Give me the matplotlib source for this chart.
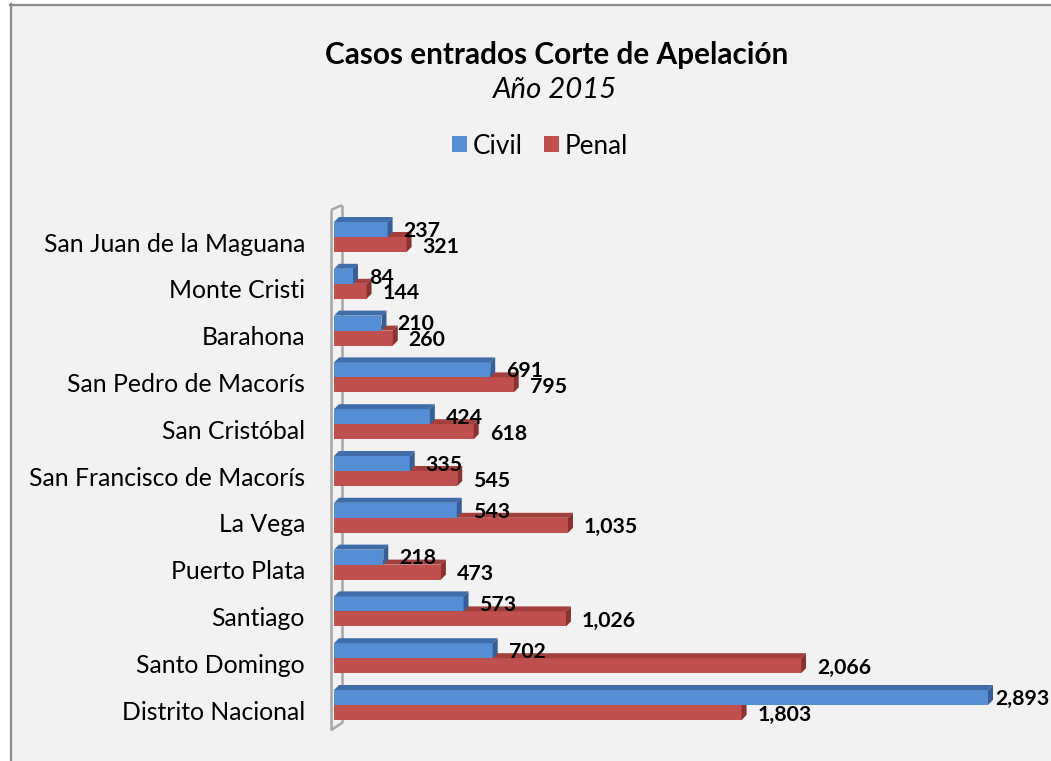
import matplotlib
matplotlib.use("Agg")
import matplotlib.pyplot as plt
from matplotlib.patches import Polygon, Rectangle, Patch
from matplotlib.lines import Line2D
from matplotlib.textpath import TextPath
from matplotlib.font_manager import FontProperties

# ---------------- data ----------------
categories = ["San Juan de la Maguana", "Monte Cristi", "Barahona",
              "San Pedro de Macorís", "San Cristóbal", "San Francisco de Macorís",
              "La Vega", "Puerto Plata", "Santiago", "Santo Domingo",
              "Distrito Nacional"]
civil = [237, 84, 210, 691, 424, 335, 543, 218, 573, 702, 2893]
penal = [321, 144, 260, 795, 618, 545, 1035, 473, 1026, 2066, 1803]
series_names = ["Civil", "Penal"]
title = "Casos entrados Corte de Apelación"
subtitle = "Año 2015"

# ---------------- style ----------------
W, H = 1051, 761
FONT = "Lato"
BG = "#F2F2F2"
BLUE = ("#558ED5", "#3F6DAA", "#375F96")   # front, top, side
RED = ("#C0504D", "#A3403D", "#8A3230")


def fit_size(text, target_px, **kw):
    """font size (pt) so that text is target_px wide at 100 dpi"""
    fp = FontProperties(family=FONT, size=10, **kw)
    w = TextPath((0, 0), text, prop=fp).get_extents().width  # in pt at size 10
    return 10 * (target_px * 0.72) / w


tick_fs = fit_size("San Juan de la Maguana", 258)
title_fs = fit_size(title, 460, weight="bold")
sub_fs = fit_size(subtitle, 124, style="italic")
lab_fs = fit_size("1,803", 52, weight="bold")
leg_fs = fit_size("Penal", 59)

fig = plt.figure(figsize=(W / 100, H / 100), dpi=100)
fig.patch.set_facecolor("white")
fig.patches.append(Rectangle((10 / W, 0), 1, (H - 4) / H, transform=fig.transFigure,
                             facecolor=BG, edgecolor="none", zorder=-10))
fig.add_artist(Line2D([10.5 / W, 10.5 / W], [0, (H - 4) / H], color="#8C8C8C", lw=1.6))
fig.add_artist(Line2D([10 / W, 1], [(H - 4.5) / H, (H - 4.5) / H], color="#8C8C8C", lw=1.6))

# pixel geometry
x0_px = 334.0          # value 0
kx = (988.0 - 334.0) / 2893.0   # px per unit
ax_left_px, ax_right_px = 320.0, 1046.0
ky = 46.8              # px per category
y0_px = 705.0          # centre of bottom category (from top)
ylo, yhi = -0.6, 10.6
ax_top_px = y0_px - yhi * ky
ax_bot_px = y0_px - ylo * ky

ax = fig.add_axes([ax_left_px / W, 1 - ax_bot_px / H,
                   (ax_right_px - ax_left_px) / W, (ax_bot_px - ax_top_px) / H])
ax.set_xlim((ax_left_px - x0_px) / kx, (ax_right_px - x0_px) / kx)
ax.set_ylim(ylo, yhi)
ax.patch.set_alpha(0)
for s in ax.spines.values():
    s.set_visible(False)
ax.set_xticks([])

h = 15.0 / ky
dx = 5.0 / kx
dy = 5.0 / ky


def px2d(xp, yp):
    return (xp - x0_px) / kx, (y0_px - yp) / ky


wall_col = "#A6A6A6"
for pts in ([(331, 210), (331, 730)], [(342, 205), (342, 723)],
            [(331, 730), (342, 723)], [(331, 210), (342, 205)]):
    (xa, ya), (xb, yb) = px2d(*pts[0]), px2d(*pts[1])
    ax.plot([xa, xb], [ya, yb], color=wall_col, lw=1.8, zorder=1,
            solid_capstyle="butt", clip_on=False)


def bar3d(val, yb, cols, z):
    f, t, s = cols
    ax.add_patch(Rectangle((0, yb), val, h, facecolor=f, edgecolor="none", zorder=z))
    ax.add_patch(Polygon([(0, yb + h), (dx, yb + h + dy), (val + dx, yb + h + dy), (val, yb + h)],
                         closed=True, facecolor=t, edgecolor="none", zorder=z))
    ax.add_patch(Polygon([(val, yb), (val, yb + h), (val + dx, yb + h + dy), (val + dx, yb + dy)],
                         closed=True, facecolor=s, edgecolor="none", zorder=z))


n = len(categories)
ypos = [n - 1 - i for i in range(n)]
labels = []
for i in range(n):
    y = ypos[i]
    bar3d(penal[i], y - h, RED, 2)
    bar3d(civil[i], y, BLUE, 3)
for i in range(n):
    y = ypos[i]
    t1 = ax.annotate(f"{civil[i]:,}", (civil[i], y + h / 2), xytext=(11.5, -1.0),
                     textcoords="offset points", ha="left", va="center",
                     fontsize=lab_fs, fontweight="bold", family=FONT, zorder=10,
                     annotation_clip=False)
    t2 = ax.annotate(f"{penal[i]:,}", (penal[i], y - h / 2), xytext=(11.5, -1.5),
                     textcoords="offset points", ha="left", va="center",
                     fontsize=lab_fs, fontweight="bold", family=FONT, zorder=10,
                     annotation_clip=False)
    labels += [t1, t2]

ax.set_yticks([y - 0.107 for y in ypos])
ax.set_yticklabels(categories, family=FONT, fontsize=tick_fs)
ax.tick_params(axis="y", length=0, pad=(ax_left_px - 305) * 0.72)

fig.text(557 / W, 1 - 55 / H, title, ha="center", va="center", fontsize=title_fs,
         fontweight="bold", family=FONT)
fig.text(555 / W, 1 - 90 / H, subtitle, ha="center", va="center", fontsize=sub_fs,
         style="italic", family=FONT)

handles = [Patch(facecolor=BLUE[0], edgecolor="none"), Patch(facecolor=RED[0], edgecolor="none")]
sq = 15 * 0.72 / leg_fs
fig.legend(handles, series_names, loc="center", bbox_to_anchor=(540 / W, 1 - 146 / H),
           ncol=2, frameon=False, prop={"family": FONT, "size": leg_fs},
           handlelength=sq, handleheight=sq, handletextpad=6 * 0.72 / leg_fs,
           columnspacing=21 * 0.72 / leg_fs)

# keep data labels inside the chart area
fig.canvas.draw()
r = fig.canvas.get_renderer()
for t in labels:
    bb = t.get_window_extent(r)
    if bb.x1 > W - 2:
        ox, oy = t.xyann
        t.xyann = (ox - (bb.x1 - (W - 2)) * 0.72, oy)

fig.savefig("out.png", dpi=100, facecolor="white")
